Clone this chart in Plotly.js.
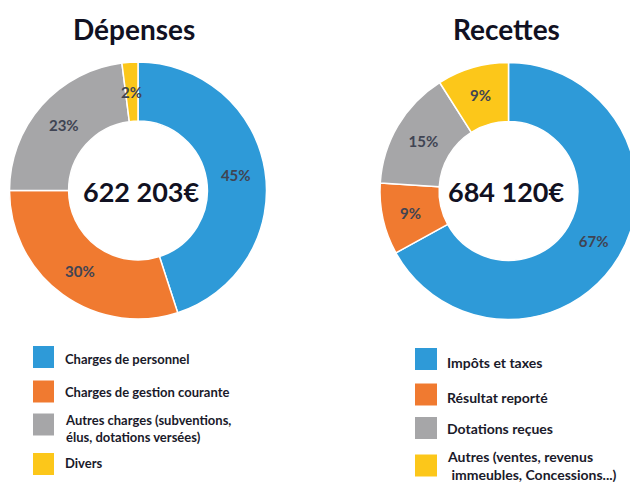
<!DOCTYPE html>
<html><head><meta charset="utf-8">
<script src="https://cdn.plot.ly/plotly-3.0.1.min.js"></script>
<style>html,body{margin:0;padding:0;overflow:hidden;background:#fff;}#chart{width:640px;height:482px;}</style>
</head><body><div id="chart"></div>
<script>
const depLabels = ["Charges de personnel", "Charges de gestion courante", "Autres charges (subventions,<br>élus, dotations versées)", "Divers"];
const depValues = [45, 30, 23, 2];
const recLabels = ["Impôts et taxes", "Résultat reporté", "Dotations reçues", "Autres (ventes, revenus<br> immeubles, Concessions...)"];
const recValues = [67, 9, 15, 9];
const colors = ["#2E9AD8", "#F07A30", "#A6A6A8", "#FCC71A"];
const depTotal = "622 203€";
const recTotal = "684 120€";

const W = 640, H = 482;
const px = x => x / W, py = y => 1 - y / H;
const FONT = "Lato, 'Open Sans', sans-serif";
const PCT_FONT = {family: FONT, size: 15, color: "#404453", weight: "bold"};
const HOLE = 0.54;

function pie(values, labels, cx, cy, r, small) {
  // slices too thin for an inside label get their label from an annotation at mid-ring (below)
  const pos = values.map(v => (v / values.reduce((a, b) => a + b, 0) < small ? "none" : "inside"));
  return {
    type: "pie", values: values, labels: labels, sort: false, direction: "clockwise",
    hole: HOLE, marker: {colors: colors, line: {color: "#ffffff", width: 1.5}},
    texttemplate: "%{percent:.0%}", textposition: pos, insidetextorientation: "horizontal",
    textfont: PCT_FONT,
    domain: {x: [px(cx - r), px(cx + r)], y: [py(cy + r), py(cy - r)]},
    showlegend: false, hoverinfo: "label+percent"
  };
}

const SMALL = 0.05;
const depGeom = {cx: 138, cy: 190.5, r: 128.5};
const recGeom = {cx: 508.5, cy: 191, r: 128.5};
const data = [pie(depValues, depLabels, depGeom.cx, depGeom.cy, depGeom.r, SMALL),
              pie(recValues, recLabels, recGeom.cx, recGeom.cy, recGeom.r, SMALL)];

const annotations = [
  {text: "Dépenses", x: px(134), y: py(29), font: {family: FONT, size: 28, color: "#111122", weight: "bold"}},
  {text: "Recettes", x: px(506), y: py(29), font: {family: FONT, size: 28, color: "#111122", weight: "bold"}},
  {text: depTotal, x: px(141), y: py(192), font: {family: FONT, size: 27, color: "#111122", weight: "bold"}},
  {text: recTotal, x: px(506), y: py(192), font: {family: FONT, size: 27, color: "#111122", weight: "bold"}}
].map(a => Object.assign({xref: "paper", yref: "paper", showarrow: false, xanchor: "center", yanchor: "middle"}, a));

// mid-ring labels for thin slices, placed from the data (clockwise from 12 o'clock)
[[depValues, depGeom], [recValues, recGeom]].forEach(([vals, g]) => {
  const tot = vals.reduce((a, b) => a + b, 0);
  let cum = 0;
  vals.forEach(v => {
    const mid = (cum + v / 2) / tot * 2 * Math.PI;
    cum += v;
    if (v / tot >= SMALL) return;
    const rm = g.r * (1 + HOLE) / 2;
    annotations.push({xref: "paper", yref: "paper", showarrow: false, xanchor: "center", yanchor: "middle",
      x: px(g.cx + rm * Math.sin(mid)), y: py(g.cy - rm * Math.cos(mid)),
      text: Math.round(v / tot * 100) + "%", font: PCT_FONT});
  });
});

const shapes = [];
const depRows = [357, 391.5, 424.5, 464];
const depTextY = [359, 392, 428, 463];
const recRows = [359, 394.5, 428, 465.5];
const recTextY = [362, 397, 428, 465];
depLabels.forEach((l, i) => {
  shapes.push({type: "rect", xref: "paper", yref: "paper", x0: px(33), x1: px(54), y0: py(depRows[i] + 11), y1: py(depRows[i] - 11), fillcolor: colors[i], line: {width: 0}});
  annotations.push({xref: "paper", yref: "paper", showarrow: false, xanchor: "left", yanchor: "middle", align: "left",
    x: px(63), y: py(depTextY[i]), text: l, font: {family: FONT, size: 13, color: "#1a1a2a", weight: "bold"}});
});
recLabels.forEach((l, i) => {
  shapes.push({type: "rect", xref: "paper", yref: "paper", x0: px(415), x1: px(437), y0: py(recRows[i] + 11), y1: py(recRows[i] - 11), fillcolor: colors[i], line: {width: 0}});
  annotations.push({xref: "paper", yref: "paper", showarrow: false, xanchor: "left", yanchor: "middle", align: "left",
    x: px(445), y: py(recTextY[i]), text: l, font: {family: FONT, size: 14, color: "#1a1a2a", weight: "bold"}});
});

const layout = {
  width: W, height: H, margin: {l: 0, r: 0, t: 0, b: 0},
  paper_bgcolor: "#ffffff", showlegend: false,
  annotations: annotations, shapes: shapes
};
Plotly.newPlot("chart", data, layout, {displayModeBar: false, staticPlot: true});
</script></body></html>
